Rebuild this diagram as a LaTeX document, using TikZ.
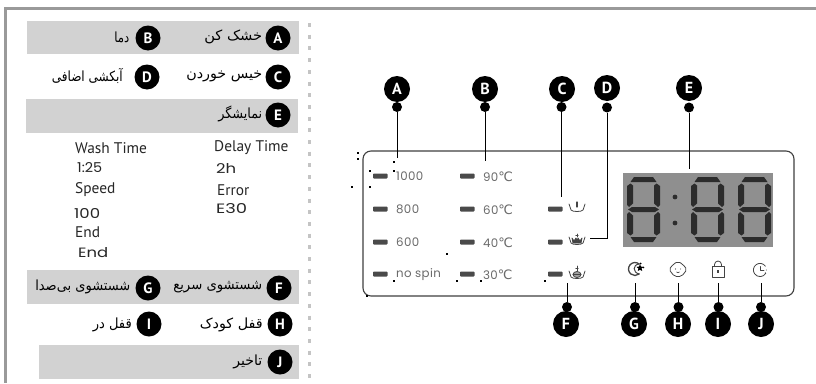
\documentclass[tikz,border=0pt]{standalone}
\usepackage{fontspec}
\usepackage{graphicx}
\usetikzlibrary{shapes.geometric}
\newfontfamily\perfont[Script=Arabic]{DejaVu Sans}
\newfontfamily\engfont{PT Sans}
\newfontfamily\panelfont[LetterSpace=3]{Poppins}
\newfontfamily\lcdfont{Poppins}
\newfontfamily\symfont{DejaVu Sans}
\TeXXeTstate=1
\definecolor{bandgray}{HTML}{D2D2D2}
\definecolor{framegray}{HTML}{9A9A9A}
\definecolor{dashgray}{HTML}{C4C4C4}
\definecolor{ledgray}{HTML}{4A4A4A}
\definecolor{lcdbg}{HTML}{8F8F8F}
\definecolor{lcdseg}{HTML}{2C2C2C}
\definecolor{paneltext}{HTML}{6A6A6A}
\definecolor{iconcol}{HTML}{444444}
\tikzset{
  band/.style={fill=bandgray,draw=none},
  badge/.style={circle,fill=black,minimum size=26pt,inner sep=0pt,text=white,font=\engfont\bfseries\fontsize{16}{16}\selectfont},
  sbadge/.style={circle,fill=black,minimum size=25pt,inner sep=0pt,text=white,font=\engfont\bfseries\fontsize{15}{15}\selectfont},
  pin/.style={circle,fill=black,minimum size=10pt,inner sep=0pt},
  lead/.style={draw=black,line width=1pt},
  per/.style={anchor=east,inner sep=0pt,text=black,font=\perfont\fontsize{14}{14}\selectfont},
  eng/.style={anchor=west,inner sep=0pt,text=black!85,font=\engfont\fontsize{15.4}{15}\selectfont},
  lcd/.style={anchor=west,inner sep=0pt,text=black!85,font=\lcdfont\fontsize{12}{12}\selectfont},
  ptext/.style={anchor=west,inner sep=0pt,text=paneltext,font=\panelfont\fontsize{11.8}{11.8}\selectfont},
  led/.style={fill=ledgray,draw=none,rounded corners=0.8pt},
  icon/.style={draw=iconcol,line width=0.8pt,fill=none,line cap=round,line join=round},
  speck/.style={fill=black,draw=none},
  seg/.style={fill=lcdseg,draw=none}
}
\newcommand{\lcddigit}[2]{%
  \begin{scope}[shift={(#1,#2)}]
    \fill[seg] (7,0)--(26,0)--(29.5,5)--(3.5,5)--cycle;
    \fill[seg] (0,9)--(3.5,6.5)--(6,8.5)--(6,26.5)--(2,30)--(0,28)--cycle;
    \fill[seg] (33,9)--(29.5,6.5)--(27,8.5)--(27,26.5)--(31,30)--(33,28)--cycle;
    \fill[seg] (1,32.5)--(5,30)--(28,30)--(32,32.5)--(28,35)--(5,35)--cycle;
    \fill[seg] (0,37)--(2,35)--(6,38.5)--(6,56.5)--(3.5,58.5)--(0,56)--cycle;
    \fill[seg] (33,37)--(31,35)--(27,38.5)--(27,56.5)--(29.5,58.5)--(33,56)--cycle;
    \fill[seg] (3.5,60)--(29.5,60)--(26,65)--(7,65)--cycle;
  \end{scope}}
\newcommand{\ledbar}[2]{\fill[led] (#1,#2-2.5) rectangle ++(14.5,5);}
\newcommand{\degc}[1]{#1{\symfont\fontsize{13}{13}\selectfont ℃}}
\newcommand{\tubpath}[1]{\draw[icon] (#1-8,-3) -- (#1-6,3) .. controls (#1-5,5) and (#1+5,5) .. (#1+6,3) -- (#1+8,-3);}
\begin{document}
\begin{tikzpicture}[x=1pt,y=-1pt]
\useasboundingbox (0,0) rectangle (816,383);
\fill[white] (0,0) rectangle (816,383);
% frame
\fill[framegray] (4,7) rectangle (816,10);
\fill[framegray] (4,7) rectangle (7,383);
% bands
\fill[band] (27,21) rectangle (299,54);
\fill[band] (26,99) rectangle (298,133);
\fill[band] (27,270) rectangle (299,304);
\fill[band] (39,345) rectangle (299,379);
% dashed divider
\coordinate (dtop) at (309.5,23);
\coordinate (dbot) at (309.5,378);
\draw[dashgray,line width=3pt,dash pattern=on 4pt off 7.7pt] (dtop) -- (dbot);
% left badges and labels
\node[sbadge] (la) at (278,38) {A};
\node[sbadge] (lb) at (148,38) {B};
\node[sbadge] (lc) at (278,77) {C};
\node[sbadge] (ld) at (147,77) {D};
\node[sbadge] (le) at (278,115) {E};
\node[sbadge] (lf) at (279,288) {F};
\node[sbadge] (lg) at (148,288) {G};
\node[sbadge] (lh) at (280,324) {H};
\node[sbadge] (li) at (149,324) {I};
\node[sbadge] (lj) at (280,362) {J};
\node[per] (ta) at (262.5,37) {\resizebox{58pt}{\height}{\beginR خشک کن\endR}};
\node[per] (tb) at (129.5,37) {\resizebox{15pt}{\height}{\beginR دما\endR}};
\node[per] (tc) at (262.5,76) {\resizebox{76pt}{\height}{\beginR خیس خوردن\endR}};
\node[per] (td) at (123,76) {\resizebox{71pt}{\height}{\beginR آبکشی اضافی\endR}};
\node[per] (te) at (262.5,114) {\resizebox{44pt}{\height}{\beginR نمایشگر\endR}};
\node[per] (tf) at (262.5,287) {\resizebox{89pt}{\height}{\beginR شستشوی سریع\endR}};
\node[per] (tg) at (130.5,287) {\resizebox{95pt}{\height}{\beginR شستشوی بی‌صدا\endR}};
\node[per] (th) at (263,325) {\resizebox{63pt}{\height}{\beginR قفل کودک\endR}};
\node[per] (ti) at (132,325) {\resizebox{39pt}{\height}{\beginR قفل در\endR}};
\node[per] (tj) at (262.5,362) {\resizebox{29pt}{\height}{\beginR تاخیر\endR}};
% English and readouts
\node[eng] (wt) at (75,148) {Wash Time};
\node[eng] (dt) at (214,148) {Delay Time};
\node[eng] (sp) at (75,190) {Speed};
\node[eng] (er) at (217,190) {Error};
\node[eng] (en) at (75,232) {End};
\node[lcd] (r1) at (77,168) {\resizebox{25pt}{10pt}{1:25}};
\node[lcd] (r2) at (216,168) {\resizebox{20pt}{10pt}{2h}};
\node[lcd] (r3) at (74,213) {\resizebox{26pt}{10pt}{100}};
\node[lcd] (r4) at (216,209) {\resizebox{31pt}{10pt}{E30}};
\node[lcd] (r5) at (78,253) {\resizebox{30pt}{10pt}{End}};
% panel
\node[draw=black!75,line width=1.1pt,rounded corners=8pt,minimum width=431pt,minimum height=145pt,inner sep=0pt] (panel) at (578.5,223.5) {};
% LEDs
\foreach \yy in {176,209,242,274} {\ledbar{373}{\yy}}
\foreach \yy in {176,209,242,274} {\ledbar{460}{\yy}}
\foreach \yy in {209,242,274} {\ledbar{548}{\yy}}
\node[ptext] (s1) at (396,176) {1000};
\node[ptext] (s2) at (396,209.5) {800};
\node[ptext] (s3) at (396,242.5) {600};
\node[ptext] (s4) at (396,274.5) {no spin};
\node[ptext] (t1) at (483,176.5) {\degc{90}};
\node[ptext] (t2) at (483,209.5) {\degc{60}};
\node[ptext] (t3) at (483,242.5) {\degc{40}};
\node[ptext] (t4) at (483,274.5) {\degc{30}};
% display
\fill[lcdbg] (623,173) rectangle (773,247);
\lcddigit{627}{177}
\lcddigit{691}{177}
\lcddigit{738}{177}
\fill[lcdseg] (675,197) circle (2.4);
\fill[lcdseg] (675,223) circle (2.4);
% icon C tub with !
\begin{scope}[shift={(577,207)}]
  \tubpath{0}
  \draw[icon,line width=1.3pt] (0,-5) -- (0,0);
\end{scope}
% icon D crown
\begin{scope}[shift={(577,240)}]
  \tubpath{0}
  \draw[icon,fill=iconcol] (-5,-2) -- (-3,1) -- (-1,-2) -- (0,1) -- (1,-2) -- (3,1) -- (5,-2) -- (4,3) -- (-4,3) -- cycle;
  \draw[icon,line width=0.6pt] (0,-6) -- (0,-3) (-1.3,-4.6) -- (1.3,-4.6);
\end{scope}
% icon F
\begin{scope}[shift={(577,274)}]
  \tubpath{0}
  \draw[icon,fill=iconcol!50] (0,0.5) ellipse (4 and 3);
  \draw[icon,line width=0.6pt] (-4,0.5) -- (4,0.5);
  \draw[icon,line width=0.6pt] (0,-8) -- (0,-3) (-1.3,-6) -- (1.3,-6);
\end{scope}
% icon G moon and star
\begin{scope}[shift={(635,269)}]
  \draw[icon,line width=1.3pt] (-50:6.5) arc[start angle=-50,end angle=-310,radius=6.5];
  \draw[icon,line width=1pt] (4.2,-5) .. controls (-2.5,-4.5) and (-2.5,3.5) .. (4.2,5);
  \node[star,star points=5,star point ratio=2.2,fill=black,inner sep=0pt,minimum size=7.5pt] (gs) at (5,-1) {};
  \fill[black] (5.5,-5.5) circle (1) (8.5,-1.5) circle (0.8);
\end{scope}
% icon H baby face
\begin{scope}[shift={(678,269)}]
  \draw[icon,rounded corners=2pt] (-9,0.5) -- (-4.5,-5) -- (0,-7.5) -- (4.5,-5) -- (9,0.5) -- (3.5,7.5) -- (-3.5,7.5) -- cycle;
  \fill[iconcol] (-2.6,0) circle (0.6) (2.6,0) circle (0.6);
  \draw[icon,line width=0.6pt] (-1.4,3) .. controls (-0.5,3.9) and (0.5,3.9) .. (1.4,3);
\end{scope}
% icon I lock
\begin{scope}[shift={(718,269)}]
  \draw[icon] (-6,-3) rectangle (6,8);
  \draw[icon] (-3.5,-3) -- (-3.5,-4.5) arc[start angle=180,end angle=360,radius=3.5] -- (3.5,-3);
  \fill[iconcol] (-0.8,1) rectangle (0.8,4);
\end{scope}
% icon J clock
\begin{scope}[shift={(760,270)}]
  \draw[icon] (-35:6.6) arc[start angle=-35,end angle=-330,radius=6.6];
  \draw[icon] (0,-3.5) -- (0,0) -- (4,0);
  \fill[iconcol] (6.4,0) circle (0.5) (5.4,2.8) circle (0.5);
\end{scope}
% specks
\foreach \sx/\sy in {358/153,358/159,394/162,370/171,394/171,352/187,370/187,447/254,394/281,457/281,481/281,545/281,367/296}
  {\fill[speck] (\sx-0.7,\sy-0.7) rectangle ++(1.4,1.4);}
% right badges, pins, leads
\node[badge] (ra) at (397,89) {A};
\node[badge] (rb) at (485,89) {B};
\node[badge] (rc) at (562,89) {C};
\node[badge] (rd) at (607,88) {D};
\node[badge] (re) at (689,88) {E};
\node[badge] (rf) at (566,324) {F};
\node[badge] (rg) at (634,324) {G};
\node[badge] (rh) at (678,324) {H};
\node[badge] (ri) at (718,324) {I};
\node[badge] (rj) at (761,324) {J};
\node[pin] (pa) at (397,107) {};
\node[pin] (pb) at (485,107) {};
\node[pin] (pc) at (561.5,107) {};
\node[pin] (pd) at (607,107.5) {};
\node[pin] (pe) at (689,107.5) {};
\node[pin] (pf) at (567,307) {};
\node[pin] (pg) at (635,307) {};
\node[pin] (ph) at (678.5,307) {};
\node[pin] (pi) at (718.5,307) {};
\node[pin] (pj) at (761,307) {};
\coordinate (ea) at (397,158);
\coordinate (eb) at (485,161);
\coordinate (ec) at (561.5,197);
\coordinate (ed) at (590,238);
\coordinate (ee) at (689,169);
\coordinate (ef) at (567,283);
\coordinate (eg) at (635,283);
\coordinate (eh) at (678.5,283);
\coordinate (ei) at (718.5,283);
\coordinate (ej) at (761,283);
\draw[lead] (pa) -- (ea);
\draw[lead] (pb) -- (eb);
\draw[lead] (pc) -- (ec);
\draw[lead] (pd) |- (ed);
\draw[lead] (pe) -- (ee);
\draw[lead] (pf) -- (ef);
\draw[lead] (pg) -- (eg);
\draw[lead] (ph) -- (eh);
\draw[lead] (pi) -- (ei);
\draw[lead] (pj) -- (ej);
\end{tikzpicture}
\end{document}
